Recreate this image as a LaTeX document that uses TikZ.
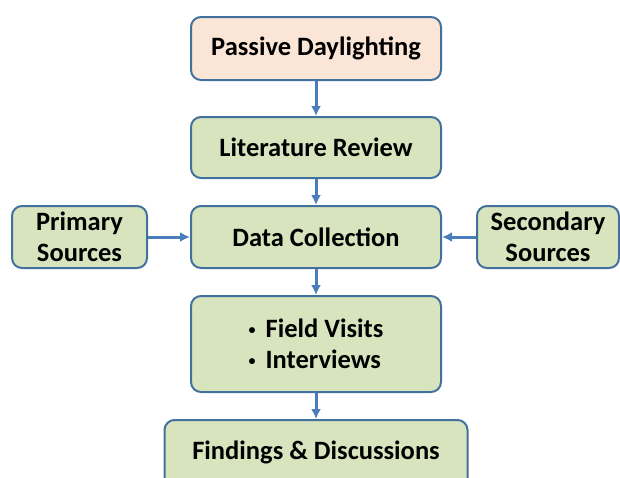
\documentclass[tikz,border=0pt]{standalone}
\usepackage{fontspec}
\setmainfont{Carlito}
\usetikzlibrary{arrows.meta}
\definecolor{boxline}{HTML}{41719C}
\definecolor{arrowblue}{HTML}{4A7EBB}
\definecolor{boxgreen}{HTML}{D7E4BD}
\definecolor{boxpeach}{HTML}{FBE5D6}
\newcommand{\smallbul}{\makebox[17pt][l]{\raisebox{3pt}{\fontsize{14}{14}\selectfont •}}}
\tikzset{
  stage/.style={draw=boxline, line width=2pt, rounded corners=10pt, fill=boxgreen,
    align=center, inner sep=0pt, font=\bfseries\fontsize{26.5}{31}\selectfont},
  flow/.style={-{Latex[length=10pt,width=10pt]}, draw=arrowblue, line width=3pt}
}
\begin{document}
\begin{tikzpicture}[x=1pt, y=-1pt]
\useasboundingbox (0,0) rectangle (620,477);
% main column
\node[stage, fill=boxpeach, minimum width=250pt, minimum height=63pt] (topic) at (316,48.5) {Passive Daylighting};
\node[stage, minimum width=250pt, minimum height=61pt] (review) at (316,147.5) {Literature Review};
\node[stage, minimum width=250pt, minimum height=62pt] (collect) at (316,237) {Data Collection};
\node[stage, minimum width=250pt, minimum height=96pt, align=left] (field) at (316,344) {\smallbul Field Visits\\\smallbul Interviews};
\node[stage, minimum width=303pt, minimum height=80pt] (findings) at (316,460) {};
\node[font=\bfseries\fontsize{26.5}{31}\selectfont] (findtext) at (316,452) {Findings \& Discussions};
% side sources
\node[stage, minimum width=135pt, minimum height=62pt] (primary) at (79.5,237) {Primary\\Sources};
\node[stage, minimum width=142pt, minimum height=62pt] (secondary) at (548,237) {Secondary\\Sources};
% arrows
\draw[flow] (topic) -- (review);
\draw[flow] (review) -- (collect);
\draw[flow] (collect) -- (field);
\draw[flow] (field) -- (findings);
\draw[flow] (primary) -- (collect);
\draw[flow] (secondary) -- (collect);
\end{tikzpicture}
\end{document}
